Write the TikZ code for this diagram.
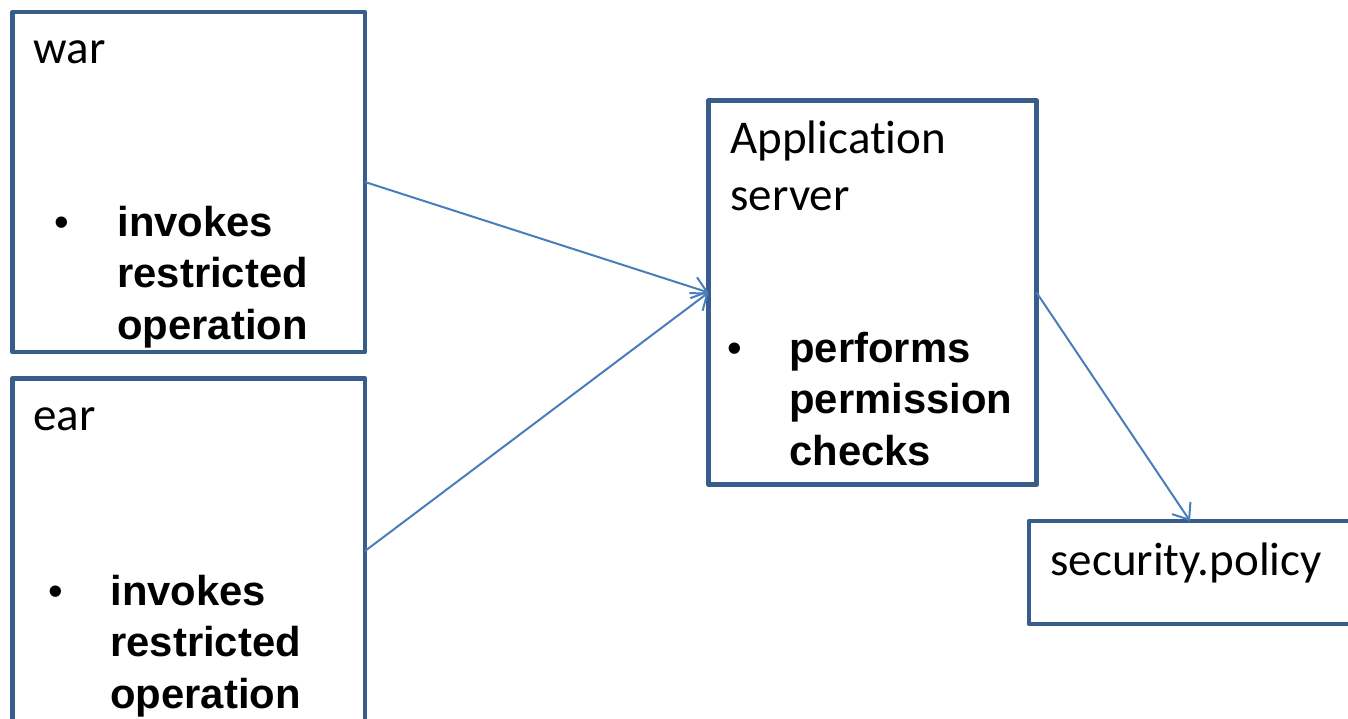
\documentclass[tikz,border=0pt]{standalone}
\usepackage{fontspec}
\setmainfont[Ligatures=NoCommon,RawFeature={-clig}]{Carlito}
\newfontfamily\arialfont{Liberation Sans}
\usetikzlibrary{arrows.meta}
\definecolor{boxblue}{RGB}{56,93,138}
\definecolor{linkblue}{RGB}{74,126,187}
\begin{document}
\begin{tikzpicture}[x=0.5pt,y=-0.5pt,
  box/.style={draw=boxblue, line width=2.2pt, line join=round, inner sep=0pt, outer sep=0pt, anchor=north west},
  link/.style={draw=linkblue, line width=1pt, -{Straight Barb[length=7pt,width=11pt,line width=1pt]}},
  head/.style={font=\fontsize{23.5}{28.5}\selectfont, inner sep=0pt, anchor=base west, align=left},
  pts/.style={font=\arialfont\bfseries\fontsize{20.9}{25.75}\selectfont, inner sep=0pt, anchor=base west, align=left},
  dot/.style={font=\arialfont\fontsize{20.9}{25}\selectfont, inner sep=0pt, anchor=base}]
\useasboundingbox (0,0) rectangle (1348,718);

% boxes
\node[box, minimum width=176.25pt, minimum height=170pt] (war) at (12.5,12) {};
\node[box, minimum width=176.25pt, minimum height=172.5pt] (ear) at (12.5,378.5) {};
\node[box, minimum width=164pt, minimum height=192pt] (app) at (708.5,100.5) {};
\node[box, minimum width=161pt, minimum height=51.5pt] (sec) at (1029,521) {};

% war (multi-line nodes are placed by the baseline of their last line)
\node[head] (warlabel) at (33,63) {war};
\node[dot] (wardot) at (62,236) {•};
\node[pts] (wartext) at (117,339) {invokes\\restricted\\operation};

% ear
\node[head] (earlabel) at (33,430) {ear};
\node[dot] (eardot) at (56,605) {•};
\node[pts] (eartext) at (110,708) {invokes\\restricted\\operation};

% application server
\node[head] (applabel) at (730,210) {Application\\server};
\node[dot] (appdot) at (735,362) {•};
\node[pts] (apptext) at (789,465) {performs\\permission\\checks};

% policy file
\node[head] (seclabel) at (1050,575) {security.policy};

% connectors
\draw[link] (war.east) -- (app.west);
\draw[link] (ear.east) -- (app.west);
\draw[link] (app.east) -- (sec.north);
\end{tikzpicture}
\end{document}
